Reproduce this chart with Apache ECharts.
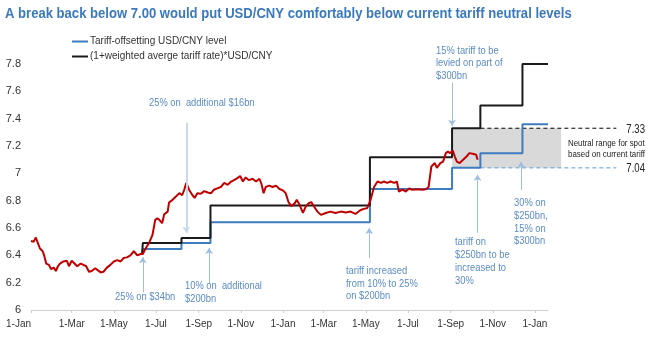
<!DOCTYPE html>
<html><head><meta charset="utf-8">
<script src="https://cdn.jsdelivr.net/npm/echarts@6/dist/echarts.min.js"></script>
<style>html,body{margin:0;padding:0;background:#fff}#c{width:667px;height:356px}</style>
</head><body><div id="c"></div>
<script>
const FONT = "'Liberation Sans Narrow','Arial Narrow','Liberation Sans',Arial,sans-serif";

// USD/CNY spot
const spotDates = ['2018-01-01','2018-01-05','2018-01-08','2018-01-11','2018-01-14','2018-01-18','2018-01-20','2018-01-23','2018-01-27','2018-01-30',
'2018-02-03','2018-02-06','2018-02-09','2018-02-12','2018-02-17','2018-02-22','2018-02-25','2018-03-01','2018-03-05','2018-03-09',
'2018-03-14','2018-03-18','2018-03-22','2018-03-26','2018-03-30','2018-04-04','2018-04-08','2018-04-12','2018-04-16','2018-04-21',
'2018-04-26','2018-05-01','2018-05-06','2018-05-11','2018-05-15','2018-05-20','2018-05-25','2018-05-30','2018-06-04','2018-06-09',
'2018-06-12','2018-06-16','2018-06-21','2018-06-26','2018-06-30','2018-07-03','2018-07-06','2018-07-10','2018-07-13','2018-07-18',
'2018-07-20','2018-07-25','2018-07-30','2018-08-04','2018-08-08','2018-08-11','2018-08-14','2018-08-18','2018-08-23','2018-08-26',
'2018-08-30','2018-09-04','2018-09-09','2018-09-14','2018-09-19','2018-09-23','2018-09-28','2018-10-03','2018-10-08','2018-10-13',
'2018-10-18','2018-10-22','2018-10-27','2018-10-31','2018-11-04','2018-11-08','2018-11-13','2018-11-18','2018-11-23','2018-11-28',
'2018-12-01','2018-12-04','2018-12-07','2018-12-12','2018-12-17','2018-12-22','2018-12-27','2019-01-01','2019-01-05','2019-01-09',
'2019-01-13','2019-01-18','2019-01-21','2019-01-25','2019-01-30','2019-02-03','2019-02-07','2019-02-11','2019-02-15','2019-02-20',
'2019-02-25','2019-03-04','2019-03-11','2019-03-18','2019-03-26','2019-04-02','2019-04-09','2019-04-16','2019-04-23','2019-04-28',
'2019-05-03','2019-05-08','2019-05-13','2019-05-18','2019-05-23','2019-05-27','2019-06-01','2019-06-06','2019-06-11','2019-06-15',
'2019-06-18','2019-06-23','2019-06-28','2019-07-03','2019-07-07','2019-07-15','2019-07-22','2019-07-27','2019-07-31','2019-08-04',
'2019-08-09','2019-08-12','2019-08-17','2019-08-21','2019-08-25','2019-08-28','2019-08-31','2019-09-04','2019-09-07','2019-09-10',
'2019-09-14','2019-09-19','2019-09-24','2019-09-28','2019-10-03','2019-10-08','2019-10-10'];
const spotValues = [6.505,6.50,6.53,6.49,6.45,6.43,6.40,6.34,6.33,6.30,
6.31,6.285,6.32,6.34,6.355,6.36,6.32,6.36,6.34,6.32,
6.34,6.33,6.32,6.28,6.285,6.305,6.29,6.275,6.28,6.31,
6.33,6.355,6.365,6.355,6.38,6.385,6.40,6.43,6.40,6.41,
6.41,6.45,6.49,6.55,6.66,6.67,6.66,6.635,6.70,6.72,
6.786,6.806,6.83,6.855,6.84,6.88,6.93,6.88,6.84,6.82,
6.855,6.85,6.87,6.86,6.855,6.88,6.89,6.90,6.93,6.916,
6.94,6.95,6.965,6.98,6.94,6.97,6.95,6.96,6.94,6.96,
6.92,6.855,6.90,6.91,6.90,6.91,6.885,6.875,6.855,6.79,
6.76,6.78,6.806,6.77,6.71,6.757,6.78,6.79,6.757,6.72,
6.696,6.71,6.72,6.71,6.72,6.713,6.72,6.703,6.73,6.74,
6.745,6.806,6.90,6.94,6.93,6.94,6.93,6.94,6.93,6.94,
6.867,6.88,6.867,6.89,6.88,6.884,6.88,6.884,6.90,7.05,
7.075,7.04,7.075,7.086,7.148,7.16,7.148,7.167,7.123,7.086,
7.075,7.10,7.123,7.148,7.143,7.136,7.10];

// step series
const stepDates    = ['2018-06-11','2018-06-12','2018-08-07','2018-09-18','2019-05-07','2019-09-03','2019-10-14','2019-12-14','2020-01-20'];
const offsetLevels = [6.41, 6.447, 6.49, 6.642, 6.885, 7.04, 7.147, 7.36, 7.36];
const tariffLevels = [6.41, 6.49, 6.527, 6.765, 7.117, 7.33, 7.497, 7.80, 7.80];

const xTickDates = ['2018-01-01','2018-03-01','2018-05-01','2018-07-01','2018-09-01','2018-11-01','2019-01-01','2019-03-01','2019-05-01','2019-07-01','2019-09-01','2019-11-01','2020-01-01'];
const monthNames = ['Jan','Feb','Mar','Apr','May','Jun','Jul','Aug','Sep','Oct','Nov','Dec'];
const xMin = '2018-01-01', xMax = '2020-01-20';
const yMin = 6, yMax = 7.8, yStep = 0.2;

const neutralTop = 7.33, neutralBottom = 7.04;
const neutralStart = '2019-09-03', shadeEnd = '2020-02-08', dashStart = '2019-10-14', dashEnd = '2020-04-28';

const seriesNames = ['Tariff-offsetting USD/CNY level', '(1+weighted averge tariff rate)*USD/CNY'];

// arrows: [date, fromValue, toValue, pale]
const arrows = [
  ['2018-08-14', 7.37, 6.565, true],
  ['2018-06-12', 6.13, 6.386, false],
  ['2018-09-16', 6.19, 6.454, false],
  ['2019-05-06', 6.38, 6.60, false],
  ['2019-10-10', 6.565, 6.99, false],
  ['2019-12-12', 6.88, 7.084, false],
  ['2019-09-03', 7.663, 7.348, false]
];

function ts(s){ const p = s.split('-').map(Number); return Date.UTC(p[0], p[1]-1, p[2]); }

const chart = echarts.init(document.getElementById('c'), null, {renderer:'canvas'});

const blue = '#3e7cc0', black = '#1a1a1a', red = '#c00000';
const annColor = '#5b8cc6';

chart.setOption({
  animation: false,
  backgroundColor: '#fff',
  textStyle: {fontFamily: FONT},
  grid: {left: 31, right: 119, top: 64, bottom: 46},
  legend: {
    data: seriesNames, orient: 'vertical', left: 67, top: 30, itemGap: 2,
    itemWidth: 16, itemHeight: 2, icon: 'rect',
    textStyle: {fontFamily: FONT, fontSize: 10, color: '#333', lineHeight: 13, padding: [0,0,0,-3]}
  },
  xAxis: {
    type: 'value', min: ts(xMin), max: ts(xMax),
    axisLine: {show: true, lineStyle: {color: '#d0d0d0', width: 1}},
    axisTick: {show: true, length: 3, lineStyle: {color: '#d0d0d0'}, customValues: xTickDates.map(ts)},
    splitLine: {show: false},
    axisLabel: {
      customValues: xTickDates.map(ts), color: '#333', fontSize: 10, fontFamily: FONT, margin: 9,
      alignMinLabel: 'right',
      formatter: function(v){ const d = new Date(v); return d.getUTCDate() + '-' + monthNames[d.getUTCMonth()]; }
    }
  },
  yAxis: {
    type: 'value', min: yMin, max: yMax, interval: yStep,
    axisLine: {show: false}, axisTick: {show: false}, splitLine: {show: false},
    axisLabel: {color: '#333', fontSize: 11, fontFamily: FONT, margin: 10,
      formatter: function(v){ return String(Math.round(v*10)/10); }}
  },
  series: [
    {
      name: seriesNames[0], type: 'line', step: 'end', symbol: 'none', z: 3,
      data: stepDates.map((d,i)=>[ts(d), offsetLevels[i]]),
      lineStyle: {color: blue, width: 2}, itemStyle: {color: blue}
    },
    {
      name: seriesNames[1], type: 'line', step: 'end', symbol: 'none', z: 3,
      data: stepDates.map((d,i)=>[ts(d), tariffLevels[i]]),
      lineStyle: {color: black, width: 2}, itemStyle: {color: black}
    },
    {
      name: 'USD/CNY', type: 'line', symbol: 'none', z: 4,
      data: spotDates.map((d,i)=>[ts(d), spotValues[i]]),
      lineStyle: {color: red, width: 2}, itemStyle: {color: red},
      markLine: {
        silent: true, animation: false, symbolSize: 6,
        label: {show: false},
        data: arrows.map(a => [
          {coord: [ts(a[0]), a[1]], symbol: 'none', lineStyle: {color: a[3] ? '#c9d8ea' : '#9fbde0', width: a[3] ? 2 : 1, type: 'solid'}},
          {coord: [ts(a[0]), a[2]], symbol: 'arrow', itemStyle: {color: '#4f86c6'}}
        ])
      }
    }
  ]
});

function px(d, v){ return chart.convertToPixel({gridIndex: 0}, [ts(d), v]); }

const a = px(neutralStart, neutralTop), b = px(shadeEnd, neutralBottom);
const ds = px(dashStart, neutralTop), de = px(dashEnd, neutralTop);
const ds2 = px(dashStart, neutralBottom), de2 = px(dashEnd, neutralBottom);

function txt(x, y, text, opts, sx){
  return {type:'text', x:x, y:y, scaleX: sx || 0.85, silent:true, z: 10,
    style: Object.assign({text:text, font: '11px ' + FONT, fill: annColor, textVerticalAlign:'middle'}, opts||{})};
}

chart.setOption({
  graphic: [
    {type:'rect', z: 1, silent: true, shape:{x:a[0], y:a[1], width:b[0]-a[0], height:b[1]-a[1]}, style:{fill:'#d9d9d9'}},
    {type:'line', z: 1, silent: true, shape:{x1:ds[0], y1:ds[1], x2:de[0], y2:de[1]}, style:{stroke:'#000', lineWidth:1, lineDash:[4,3]}},
    {type:'line', z: 1, silent: true, shape:{x1:ds2[0], y1:ds2[1], x2:de2[0], y2:de2[1]}, style:{stroke:'#5b9bd5', lineWidth:1, lineDash:[4,3]}},
    txt(de[0]+10, de[1]+1, neutralTop.toFixed(2), {font:'12px ' + FONT, fill:'#222'}, 0.8),
    txt(de2[0]+10, de2[1]+1, neutralBottom.toFixed(2), {font:'12px ' + FONT, fill:'#222'}, 0.8),
    txt(568, 144, 'Neutral range for spot', {font:'9px ' + FONT, fill:'#222'}, 0.88),
    txt(568, 155, 'based on current tariff', {font:'9px ' + FONT, fill:'#222'}, 0.88),
    txt(5, 14, 'A break back below 7.00 would put USD/CNY comfortably below current tariff neutral levels', {font:'bold 14px ' + FONT, fill:'#3b79bd'}, 0.934),
    txt(149, 103, '25% on  additional $16bn'),
    txt(115, 297, '25% on $34bn'),
    txt(185, 286, '10% on  additional'),
    txt(185, 298.5, '$200bn'),
    txt(346, 271, 'tariff increased'),
    txt(346, 283.7, 'from 10% to 25%'),
    txt(346, 296.4, 'on $200bn'),
    txt(455, 242, 'tariff on'),
    txt(455, 255, '$250bn to be'),
    txt(455, 268, 'increased to'),
    txt(455, 281, '30%'),
    txt(514, 203.3, '30% on'),
    txt(514, 216, '$250bn,'),
    txt(514, 228.7, '15% on'),
    txt(514, 241.4, '$300bn'),
    txt(436, 50.7, '15% tariff to be'),
    txt(436, 63.4, 'levied on part of'),
    txt(436, 76.1, '$300bn')
  ]
});
</script></body></html>
